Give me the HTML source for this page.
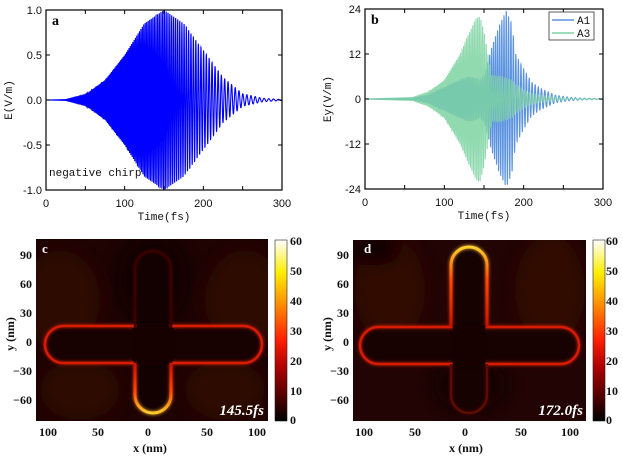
<!DOCTYPE html>
<html><head><meta charset="utf-8"><style>
body{margin:0;background:#fff;}
svg{display:block;}
.tk{font-family:"Liberation Sans",sans-serif;font-size:11px;fill:#111;}
.mono{font-family:"Liberation Mono",monospace;font-size:11px;fill:#111;}
.ser{font-family:"Liberation Serif",serif;font-weight:bold;font-size:12px;fill:#111;}
</style></head><body>
<svg id="fig" width="623" height="456" viewBox="0 0 623 456" xmlns="http://www.w3.org/2000/svg">
<defs>
<linearGradient id="cbar" x1="0" y1="1" x2="0" y2="0">
<stop offset="0" stop-color="#000"/><stop offset="0.3" stop-color="#b00000"/><stop offset="0.45" stop-color="#ff2000"/><stop offset="0.65" stop-color="#ff9000"/><stop offset="0.82" stop-color="#ffee00"/><stop offset="1" stop-color="#ffffff"/>
</linearGradient>
<linearGradient id="capDown" gradientUnits="userSpaceOnUse" x1="0" y1="365" x2="0" y2="414"><stop offset="0" stop-color="#c81400"/><stop offset="0.55" stop-color="#ff4a00"/><stop offset="1" stop-color="#ffd030"/></linearGradient>
<linearGradient id="capUp" gradientUnits="userSpaceOnUse" x1="0" y1="327" x2="0" y2="247"><stop offset="0" stop-color="#c01400"/><stop offset="0.6" stop-color="#ff4a00"/><stop offset="1" stop-color="#ffd030"/></linearGradient>
<filter id="glow" x="-20%" y="-20%" width="140%" height="140%"><feGaussianBlur stdDeviation="1.8" result="b"/><feMerge><feMergeNode in="b"/><feMergeNode in="SourceGraphic"/></feMerge></filter>
<filter id="soft"><feGaussianBlur stdDeviation="8"/></filter>
<clipPath id="clipA"><rect x="46" y="10" width="236" height="180"/></clipPath>
<clipPath id="clipB"><rect x="365" y="9" width="238" height="180"/></clipPath>
<clipPath id="clipC"><rect x="36" y="239" width="232" height="182"/></clipPath>
<clipPath id="clipD"><rect x="353" y="240" width="233" height="181"/></clipPath>
</defs>
<g id="pa"></g>
<g id="pb"></g>

<!-- panel c -->
<g>
<g clip-path="url(#clipC)">
<rect x="36" y="239" width="232" height="182" fill="#1e0302"/>
<g filter="url(#soft)" opacity="0.8">
<ellipse cx="60" cy="300" rx="40" ry="50" fill="#330704"/><ellipse cx="245" cy="300" rx="40" ry="50" fill="#330704"/>
<ellipse cx="80" cy="390" rx="40" ry="30" fill="#320704"/><ellipse cx="225" cy="390" rx="40" ry="30" fill="#320704"/>
<ellipse cx="153" cy="280" rx="35" ry="45" fill="#100100"/>
</g>
<rect x="45" y="326" width="217" height="37" rx="18.5" fill="#170201"/>
<rect x="135" y="251" width="36" height="162" rx="18" fill="#120100"/>
<g filter="url(#glow)">
<rect x="45" y="326" width="217" height="37" rx="18.5" fill="none" stroke="#d81a00" stroke-width="2.5"/>
<rect x="135" y="251" width="36" height="162" rx="18" fill="none" stroke="#3a0600" stroke-width="2.5"/>
<path d="M135 363 V395 A18 18 0 0 0 171 395 V363" fill="none" stroke="url(#capDown)" stroke-width="3"/>
<rect x="136.6" y="324" width="32.8" height="41" fill="#150201"/>
<rect x="132" y="328" width="42" height="33" fill="#150201"/>
</g>
<text x="264" y="415" text-anchor="end" style="font-family:'Liberation Serif',serif;font-style:italic;font-weight:bold;font-size:15px;fill:#fff">145.5fs</text>
</g>
<text x="42" y="253" style="font-family:'Liberation Serif',serif;font-weight:bold;font-size:13px;fill:#fff">c</text>
<rect x="275" y="240" width="12" height="181" fill="url(#cbar)" stroke="#222" stroke-width="0.6"/>
<g class="ser">
<text x="290" y="245">60</text><text x="290" y="275">50</text><text x="290" y="305">40</text><text x="290" y="335">30</text><text x="290" y="365">20</text><text x="290" y="395">10</text><text x="290" y="424">0</text>
</g>
<g class="ser" text-anchor="end">
<text x="32" y="259">90</text><text x="32" y="288">60</text><text x="32" y="317">30</text><text x="32" y="346">0</text><text x="32" y="375">−30</text><text x="32" y="404">−60</text>
</g>
<g class="ser" text-anchor="middle">
<text x="48" y="436">100</text><text x="98" y="436">50</text><text x="148" y="436">0</text><text x="207" y="436">50</text><text x="257" y="436">100</text>
</g>
<text x="150" y="452" class="ser" text-anchor="middle">x (nm)</text>
<text transform="translate(14,334) rotate(-90)" class="ser" text-anchor="middle">y (nm)</text>
</g>

<!-- panel d -->
<g>
<g clip-path="url(#clipD)">
<rect x="353" y="240" width="233" height="181" fill="#210403"/>
<g filter="url(#soft)" opacity="0.8">
<ellipse cx="390" cy="290" rx="35" ry="55" fill="#360704"/><ellipse cx="550" cy="290" rx="35" ry="55" fill="#360704"/>
<ellipse cx="470" cy="385" rx="35" ry="25" fill="#0e0100"/>
<ellipse cx="375" cy="250" rx="25" ry="15" fill="#100100"/>
</g>
<rect x="360" y="327" width="219" height="37" rx="18.5" fill="#170201"/>
<rect x="451" y="247" width="36" height="166" rx="18" fill="#150201"/>
<g filter="url(#glow)">
<rect x="360" y="327" width="219" height="37" rx="18.5" fill="none" stroke="#d81a00" stroke-width="2.5"/>
<path d="M451 364 V395 A18 18 0 0 0 487 395 V364" fill="none" stroke="#5a0a02" stroke-width="2.5"/>
<path d="M451 327 V265 A18 18 0 0 1 487 265 V327" fill="none" stroke="url(#capUp)" stroke-width="3"/>
<rect x="452.6" y="325" width="32.8" height="41" fill="#150201"/>
</g>
<text x="583" y="415" text-anchor="end" style="font-family:'Liberation Serif',serif;font-style:italic;font-weight:bold;font-size:15px;fill:#fff">172.0fs</text>
</g>
<text x="364" y="253" style="font-family:'Liberation Serif',serif;font-weight:bold;font-size:13px;fill:#fff">d</text>
<rect x="593" y="240" width="12" height="181" fill="url(#cbar)" stroke="#222" stroke-width="0.6"/>
<g class="ser">
<text x="606" y="245">60</text><text x="606" y="275">50</text><text x="606" y="305">40</text><text x="606" y="335">30</text><text x="606" y="365">20</text><text x="606" y="395">10</text><text x="606" y="424">0</text>
</g>
<g class="ser" text-anchor="end">
<text x="349" y="259">90</text><text x="349" y="288">60</text><text x="349" y="317">30</text><text x="349" y="346">0</text><text x="349" y="375">−30</text><text x="349" y="404">−60</text>
</g>
<g class="ser" text-anchor="middle">
<text x="364" y="436">100</text><text x="415" y="436">50</text><text x="465" y="436">0</text><text x="521" y="436">50</text><text x="570" y="436">100</text>
</g>
<text x="466" y="452" class="ser" text-anchor="middle">x (nm)</text>
<text transform="translate(331,334) rotate(-90)" class="ser" text-anchor="middle">y (nm)</text>
</g>
</svg>
<script>
// ---- data ----
const envTimes = [0,25,50,75,100,125,150,175,200,225,250,275,300];
const envA = [0,0.005,0.06,0.22,0.5,0.85,1.0,0.85,0.55,0.25,0.07,0.02,0.005];
const periodTimes = [0,100,150,200,250,300];
const periodFs = [1.2,1.5,2.2,3.4,5,6.5];
const envTimesB = [0,60,80,100,120,130,140,145,150,155,160,170,178,185,190,200,210,220,240,260,300];
const envA1 = [0,0.2,1,3,5,6,5.5,5,6,10,14,20,23.5,20,12,8,4.5,3,1,0.4,0];
const envA3 = [0,0.4,1.8,5,12,17,21.5,22,18,12,6,6,5.5,5,4,2.5,1.5,1,0.5,0.2,0];
const ticksA = [-1,-0.5,0,0.5,1];
const tickLabelsA = ["-1.0","-0.5","0.0","0.5","1.0"];
const ticksB = [-24,-12,0,12,24];
const tickLabelsB = ["-24","-12","0","12","24"];
const xTicks = [0,100,200,300];

const NS="http://www.w3.org/2000/svg";
function mk(tag,attrs,parent,txt){const e=document.createElementNS(NS,tag);for(const k in attrs)e.setAttribute(k,attrs[k]);if(txt!==undefined)e.textContent=txt;parent.appendChild(e);return e;}
function interp(xs,ys,x){if(x<=xs[0])return ys[0];for(let i=1;i<xs.length;i++){if(x<=xs[i]){const f=(x-xs[i-1])/(xs[i]-xs[i-1]);return ys[i-1]+f*(ys[i]-ys[i-1]);}}return ys[ys.length-1];}

function axesFrame(g,x0,y0,x1,y1,xs,ys,yt,ytl,yLabel,panel){
  mk('rect',{x:x0,y:y0,width:x1-x0,height:y1-y0,fill:'none',stroke:'#000','stroke-width':1.2},g);
  for(let t=0;t<=300;t+=50){const x=xs(t);
    mk('line',{x1:x,y1:y1,x2:x,y2:y1-4,stroke:'#000'},g);mk('line',{x1:x,y1:y0,x2:x,y2:y0+4,stroke:'#000'},g);}
  xTicks.forEach(t=>{const e=mk('text',{x:xs(t),y:y1+17,'text-anchor':'middle',class:'tk'},g,String(t));
    
    });
  yt.forEach((v,i)=>{const y=ys(v);
    mk('line',{x1:x0,y1:y,x2:x0+4,y2:y,stroke:'#000'},g);mk('line',{x1:x1,y1:y,x2:x1-4,y2:y,stroke:'#000'},g);
    const e=mk('text',{x:x0-4,y:y+4,'text-anchor':'end',class:'tk'},g,ytl[i]);
    
    });
  const xt=mk('text',{x:(x0+x1)/2,y:y1+30,'text-anchor':'middle',class:'mono'},g,'Time(fs)');
  
  
  const yl=mk('text',{transform:`translate(${x0-34},${(y0+y1)/2}) rotate(-90)`,'text-anchor':'middle',class:'mono'},g,yLabel);
  
  
  const pl=mk('text',{x:x0+6,y:y0+15,style:"font-family:'Liberation Serif',serif;font-weight:bold;font-size:14px;fill:#000"},g,panel);
  
  
}

function wave(envX,envY,xs,ys,t0Shift){
  let ph=0,pts=[];const dt=0.04;
  for(let t=0;t<=300;t+=dt){const p=interp(periodTimes,periodFs,t);ph+=2*Math.PI*dt/p;
    const v=interp(envX,envY,t)*Math.cos(ph+t0Shift);pts.push(xs(t).toFixed(2)+','+ys(v).toFixed(2));}
  return pts.join(' ');
}

// panel a
(function(){
  const g=document.getElementById('pa');
  const x0=46,x1=282,y0=10,y1=190;
  const xs=t=>x0+(t/300)*(x1-x0), ys=v=>y0+(1-v)/2*(y1-y0);
  const cg=mk('g',{'clip-path':'url(#clipA)'},g);
  const l=mk('polyline',{points:wave(envTimes,envA,xs,ys,0),fill:'none',stroke:'#0000ff','stroke-width':1.1},cg);
  
  
  axesFrame(g,x0,y0,x1,y1,xs,ys,ticksA,tickLabelsA,'E(V/m)','a');
  const n=mk('text',{x:49,y:176,class:'mono'},g,'negative chirp');
  
  
})();

// panel b
(function(){
  const g=document.getElementById('pb');
  const x0=365,x1=603,y0=9,y1=189;
  const xs=t=>x0+(t/300)*(x1-x0), ys=v=>y0+(24-v)/48*(y1-y0);
  const cg=mk('g',{'clip-path':'url(#clipB)'},g);
  const a1=mk('polyline',{points:wave(envTimesB,envA1,xs,ys,0.7),fill:'none',stroke:'#5b93e0','stroke-width':1.1},cg);
  
  
  const a3=mk('polyline',{points:wave(envTimesB,envA3,xs,ys,0),fill:'none',stroke:'#7ed3a2','stroke-width':1.1,'stroke-opacity':0.85},cg);
  
  
  axesFrame(g,x0,y0,x1,y1,xs,ys,ticksB,tickLabelsB,'Ey(V/m)','b');
  const lg=mk('g',{},g);
  
  
  mk('rect',{x:549,y:12,width:45,height:28,fill:'#fff',stroke:'#333','stroke-width':0.8},lg);
  mk('line',{x1:552,y1:20,x2:574,y2:20,stroke:'#5b93e0','stroke-width':1.5},lg);
  mk('text',{x:577,y:24,class:'mono','font-size':'10'},lg,'A1');
  mk('line',{x1:552,y1:33,x2:574,y2:33,stroke:'#7ed3a2','stroke-width':1.5},lg);
  mk('text',{x:577,y:37,class:'mono','font-size':'10'},lg,'A3');
})();
</script>
</body></html>
